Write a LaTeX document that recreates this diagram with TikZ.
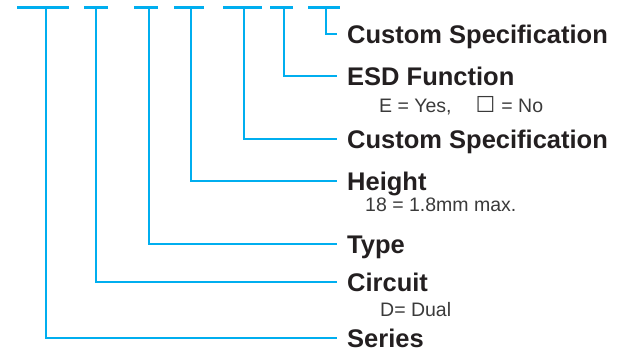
\documentclass[tikz,border=0pt]{standalone}
\usepackage{fontspec}
\setmainfont{Liberation Sans}
\newfontfamily\dejavu{DejaVu Sans}
\definecolor{lineblue}{HTML}{00AEEF}
\definecolor{txtdark}{HTML}{231F20}
\definecolor{txtsub}{HTML}{3A3A3A}
\begin{document}
\begin{tikzpicture}[x=1pt,y=-1pt,
  conn/.style={draw=lineblue,line width=2.6pt,line cap=butt,line join=miter},
  lab/.style={anchor=west,inner xsep=10pt,inner ysep=0pt,text height=18.3pt,text depth=0pt,
    font=\fontsize{25.5}{28}\selectfont\bfseries,text=txtdark},
  sub/.style={anchor=base west,inner sep=0pt,font=\fontsize{19.5}{22}\selectfont,text=txtsub}]
\useasboundingbox (0,0) rectangle (625,350);
% top bars
\draw[conn] (17,7.5) -- (69,7.5);
\draw[conn] (84,7.5) -- (108,7.5);
\draw[conn] (134,7.5) -- (158,7.5);
\draw[conn] (174,7.5) -- (204,7.5);
\draw[conn] (223,7.5) -- (262,7.5);
\draw[conn] (270,7.5) -- (293,7.5);
\draw[conn] (308,7.5) -- (340,7.5);
\coordinate (t1) at (46,7.5);
\coordinate (t2) at (96,7.5);
\coordinate (t3) at (149,7.5);
\coordinate (t4) at (191,7.5);
\coordinate (t5) at (244,7.5);
\coordinate (t6) at (284,7.5);
\coordinate (t7) at (326,7.5);
% labels
\node[lab] (l7) at (337,34) {Custom Specification};
\node[lab] (l6) at (337,76) {ESD Function};
\node[lab] (l5) at (337,139) {Custom Specification};
\node[lab] (l4) at (337,181) {Height};
\node[lab] (l3) at (337,244) {Type};
\node[lab] (l2) at (337,282) {Circuit};
\node[lab] (l1) at (337,338) {Series};
% sub texts
\node[sub] (s6) at (379,113) {E = Yes,\hspace{24pt}{\dejavu\fontsize{22}{24}\selectfont ☐}\hspace{6pt}= No};
\node[sub] (s4) at (365,212) {18 = 1.8mm max.};
\node[sub] (s2) at (380,317) {D= Dual};
% connectors
\draw[conn] (t7) |- (l7.west);
\draw[conn] (t6) |- (l6.west);
\draw[conn] (t5) |- (l5.west);
\draw[conn] (t4) |- (l4.west);
\draw[conn] (t3) |- (l3.west);
\draw[conn] (t2) |- (l2.west);
\draw[conn] (t1) |- (l1.west);
\end{tikzpicture}
\end{document}
